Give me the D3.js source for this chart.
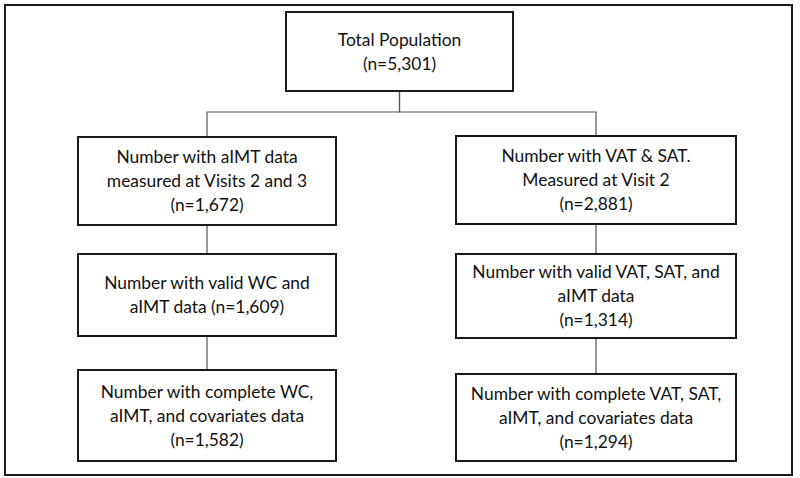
<!DOCTYPE html>
<html><head><meta charset="utf-8">
<script src="https://cdn.jsdelivr.net/npm/d3@7"></script>
<style>html,body{margin:0;padding:0;background:#fff;}</style>
</head><body>
<svg id="c" width="800" height="478"></svg>
<script>
// Data
const nodeIds = ["total", "l1", "l2", "l3", "r1", "r2", "r3"];
const nodeLabels = [
  ["Total Population"],
  ["Number with aIMT data", "measured at Visits 2 and 3"],
  ["Number with valid WC and", "aIMT data (n=1,609)"],
  ["Number with complete WC,", "aIMT, and covariates data"],
  ["Number with VAT & SAT.", "Measured at Visit 2"],
  ["Number with valid VAT, SAT, and", "aIMT data"],
  ["Number with complete VAT, SAT,", "aIMT, and covariates data"]
];
const nodeCounts = ["(n=5,301)", "(n=1,672)", null, "(n=1,582)", "(n=2,881)", "(n=1,314)", "(n=1,294)"];
const links = [["total","l1"],["total","r1"],["l1","l2"],["l2","l3"],["r1","r2"],["r2","r3"]];

// Layout (positions kept separate from data)
const layout = {
  total: {x0:286, x1:513, y0:12, y1:91},
  l1: {x0:78, x1:336, y0:137, y1:225},
  l2: {x0:78, x1:336, y0:254, y1:336},
  l3: {x0:78, x1:336, y0:370, y1:461},
  r1: {x0:456, x1:736, y0:136, y1:224},
  r2: {x0:456, x1:736, y0:254, y1:338},
  r3: {x0:456, x1:736, y0:374, y1:461}
};
const branchY = 112;
const lineH = 24;

const svg = d3.select("#c");
svg.append("rect").attr("x",5).attr("y",5).attr("width",787).attr("height",470)
  .attr("fill","none").attr("stroke","#1a1a1a").attr("stroke-width",2);

const nodes = nodeIds.map((id,i)=>({id, lines: nodeCounts[i] ? nodeLabels[i].concat([nodeCounts[i]]) : nodeLabels[i], ...layout[id]}));
const byId = Object.fromEntries(nodes.map(n=>[n.id,n]));

// links
const g = svg.append("g");
links.forEach(([a,b])=>{
  const s = byId[a], t = byId[b];
  const sx = (s.x0+s.x1)/2, tx = (t.x0+t.x1)/2;
  let pts;
  if (a === "total") pts = [[sx,s.y1],[sx,branchY],[tx,branchY],[tx,t.y0]];
  else pts = [[tx,s.y1],[tx,t.y0]];
  g.append("path").attr("d", d3.line()(pts)).attr("fill","none")
    .attr("stroke","#555").attr("stroke-width",1.2);
});

const ng = svg.selectAll("g.node").data(nodes).join("g").attr("class","node");
ng.append("rect").attr("x",d=>d.x0).attr("y",d=>d.y0)
  .attr("width",d=>d.x1-d.x0).attr("height",d=>d.y1-d.y0)
  .attr("fill","#fff").attr("stroke","#1a1a1a").attr("stroke-width",2);
ng.each(function(d){
  const cy = (d.y0+d.y1)/2;
  const n = d.lines.length;
  const t = d3.select(this).append("text").attr("text-anchor","middle")
    .attr("font-family","Lato, 'Open Sans', sans-serif").attr("font-size",17.4).attr("fill","#111");
  d.lines.forEach((ln,i)=>{
    t.append("tspan").attr("x",(d.x0+d.x1)/2)
      .attr("y", cy + (i-(n-1)/2)*lineH).attr("dy","0.35em").text(ln);
  });
});
</script>
</body></html>
